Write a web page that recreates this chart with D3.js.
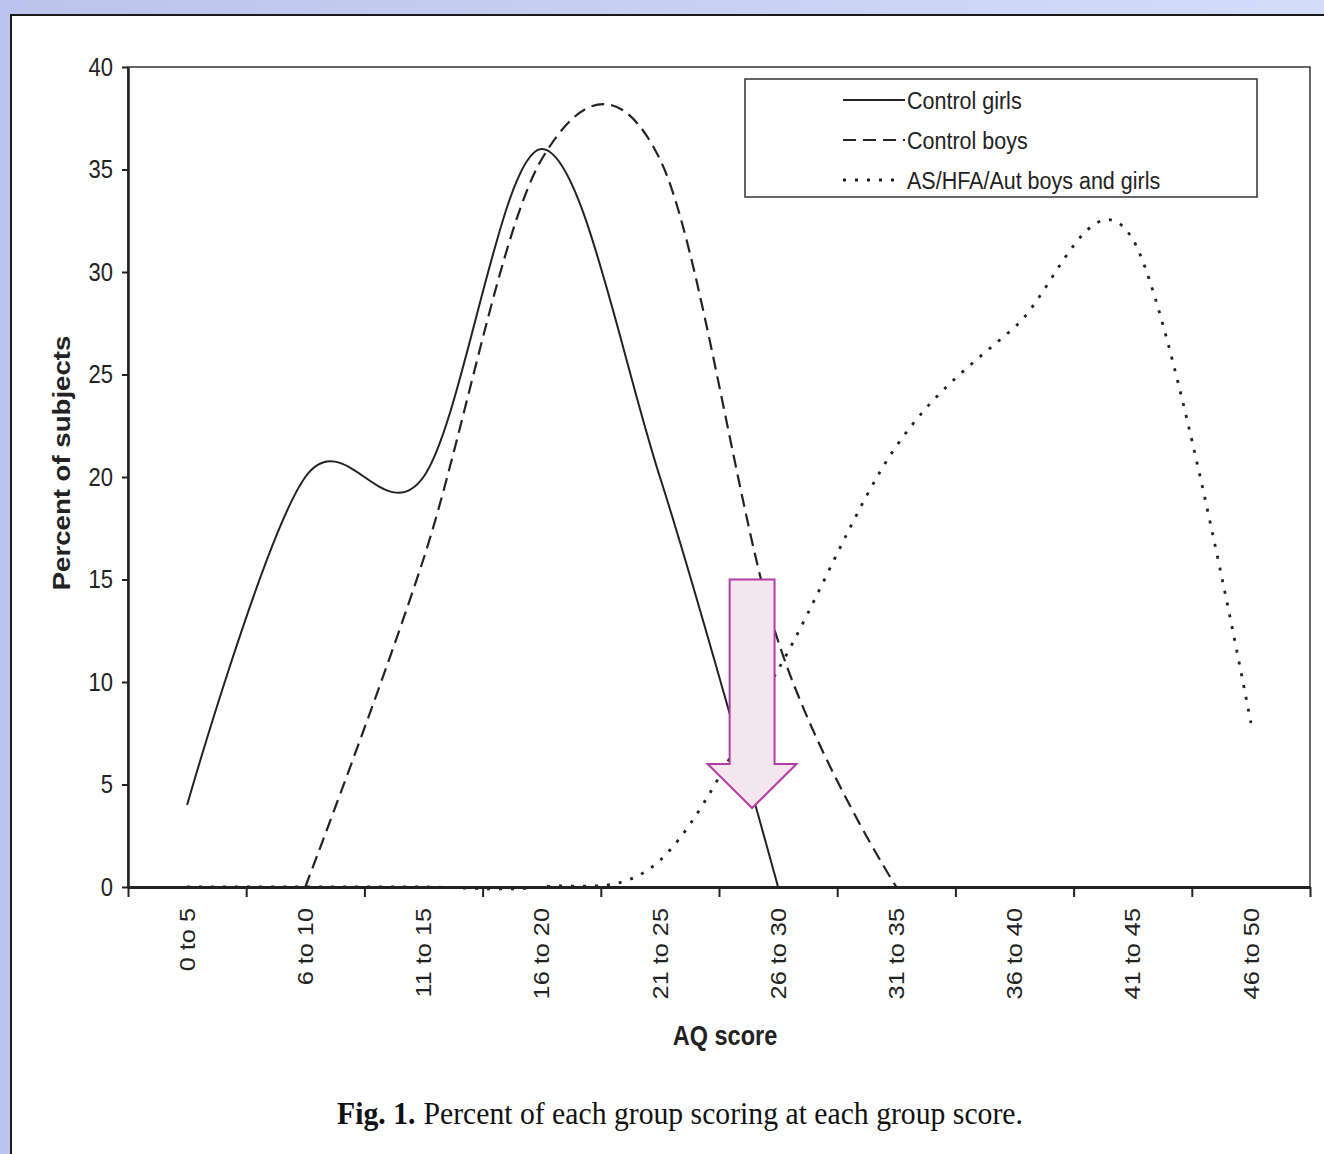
<!DOCTYPE html>
<html>
<head>
<meta charset="utf-8">
<script src="https://cdn.jsdelivr.net/npm/d3@7"></script>
<style>
  body { margin: 0; background: #fff; }
  svg { display: block; }
</style>
</head>
<body>
<svg id="chart" width="1324" height="1154"></svg>
<script>
// AQ score groups (x categories)
const categories = ["0 to 5", "6 to 10", "11 to 15", "16 to 20", "21 to 25",
                    "26 to 30", "31 to 35", "36 to 40", "41 to 45", "46 to 50"];
const yTicks = [0, 5, 10, 15, 20, 25, 30, 35, 40];

// percent of subjects, null = not plotted
const controlGirls = [4, 20, 20, 36, 20, 0, null, null, null, null];
const controlBoys = [null, 0, 16, 35.5, 35.5, 12, 0, null, null, null];
const asHfaAut = [0, 0, 0, 0, 1.3, 10.6, 21.5, 27.3, 31.6, 8];

const seriesNames = ["Control girls", "Control boys", "AS/HFA/Aut boys and girls"];

// the pink arrow, in data units (category index / percent)
const arrowAt = 4.78, arrowTop = 15, arrowHeadBase = 6, arrowTip = 3.85;

const STRETCH = 1.15; // the scanned figure is a bit taller than wide
const ink = "#222";

const svg = d3.select("#chart");

const margin = { left: 128, right: 1310, top: 67, bottom: 887 };

// page background + white panel
const defs = svg.append("defs");
const grad = defs.append("linearGradient").attr("id", "bg").attr("x1", 0).attr("x2", 1).attr("y1", 0).attr("y2", 0);
grad.append("stop").attr("offset", 0).attr("stop-color", "#bcc3ec");
grad.append("stop").attr("offset", 1).attr("stop-color", "#d3ddfa");
svg.append("rect").attr("width", 1324).attr("height", 1154).attr("fill", "url(#bg)");
svg.append("rect").attr("x", 11).attr("y", 15).attr("width", 1340).attr("height", 1160)
  .attr("fill", "#fff").attr("stroke", "#1a1a1a").attr("stroke-width", 2);

const x = d3.scaleLinear().domain([0, categories.length]).range([margin.left, margin.right]);
const y = d3.scaleLinear().domain([0, 40]).range([margin.bottom, margin.top]);

// plot frame
svg.append("rect")
  .attr("x", x(0)).attr("y", y(40))
  .attr("width", x(categories.length) - x(0)).attr("height", y(0) - y(40))
  .attr("fill", "none").attr("stroke", "#333").attr("stroke-width", 1.5);

// y axis
const yAxis = svg.append("g")
  .attr("transform", `translate(${margin.left},0)`)
  .call(d3.axisLeft(y).tickValues(yTicks).tickSize(6).tickPadding(9).tickSizeOuter(0));
yAxis.select(".domain").attr("stroke", ink).attr("stroke-width", 2.5);
yAxis.selectAll(".tick line").attr("stroke", ink).attr("stroke-width", 2);
yAxis.selectAll("text")
  .attr("font-family", "Liberation Sans, Arial, sans-serif")
  .attr("font-size", 22).attr("fill", ink)
  .attr("transform", `scale(1,${STRETCH})`);

// x axis: ticks at category boundaries
const xAxis = svg.append("g")
  .attr("transform", `translate(0,${margin.bottom})`)
  .call(d3.axisBottom(x).tickValues(d3.range(categories.length + 1)).tickSize(10)
    .tickSizeOuter(0).tickFormat(""));
xAxis.select(".domain").attr("stroke", ink).attr("stroke-width", 3);
xAxis.selectAll(".tick line").attr("stroke", ink).attr("stroke-width", 2);

svg.append("g").selectAll("text")
  .data(categories)
  .join("text")
  .attr("transform", (d, i) => `translate(${x(i + 0.5)},${margin.bottom + 21}) rotate(-90) scale(${STRETCH},1)`)
  .attr("text-anchor", "end")
  .attr("dy", "0.35em")
  .attr("font-family", "Liberation Sans, Arial, sans-serif")
  .attr("font-size", 22).attr("fill", ink)
  .text(d => d);

// axis titles
svg.append("text")
  .attr("transform", `translate(725,1045) scale(1,${STRETCH})`)
  .attr("text-anchor", "middle")
  .attr("font-family", "Liberation Sans, Arial, sans-serif")
  .attr("font-weight", "bold").attr("font-size", 23.5).attr("fill", ink)
  .text("AQ score");

svg.append("text")
  .attr("transform", `translate(70,463) rotate(-90) scale(${STRETCH},1)`)
  .attr("text-anchor", "middle")
  .attr("font-family", "Liberation Sans, Arial, sans-serif")
  .attr("font-weight", "bold").attr("font-size", 24).attr("fill", ink)
  .text("Percent of subjects");

// series
const styles = [
  { data: controlGirls, dash: null, width: 2 },
  { data: controlBoys, dash: "13,7", width: 2.2 },
  { data: asHfaAut, dash: "3,9", width: 2.8 }
];

const line = d3.line()
  .defined(d => d != null)
  .x((d, i) => x(i + 0.5))
  .y(d => y(d))
  .curve(d3.curveCardinal.tension(0));

svg.append("g").selectAll("path")
  .data(styles)
  .join("path")
  .attr("d", s => line(s.data))
  .attr("fill", "none")
  .attr("stroke", ink)
  .attr("stroke-width", s => s.width)
  .attr("stroke-dasharray", s => s.dash);

// legend
const legend = svg.append("g").attr("transform", "translate(745,79)");
legend.append("rect").attr("width", 512).attr("height", 118)
  .attr("fill", "#fff").attr("stroke", "#333").attr("stroke-width", 1.5);
const rows = legend.selectAll("g.row")
  .data(styles.map((s, i) => ({ ...s, name: seriesNames[i] })))
  .join("g").attr("class", "row")
  .attr("transform", (d, i) => `translate(0,${21 + i * 40})`);
rows.append("line")
  .attr("x1", 98).attr("x2", (d, i) => i === 2 ? 152 : 160)
  .attr("stroke", ink).attr("stroke-width", d => d.width)
  .attr("stroke-dasharray", d => d.dash);
rows.append("text")
  .attr("x", 162)
  .attr("transform", `scale(1,${STRETCH})`)
  .attr("dy", "0.35em")
  .attr("font-family", "Liberation Sans, Arial, sans-serif")
  .attr("font-size", 21.5).attr("fill", ink)
  .text(d => d.name);

// pink arrow pointing at the crossing
const half = 0.19, headHalf = 0.376;
const arrowPts = [
  [arrowAt - half, arrowTop], [arrowAt + half, arrowTop],
  [arrowAt + half, arrowHeadBase], [arrowAt + headHalf, arrowHeadBase],
  [arrowAt, arrowTip],
  [arrowAt - headHalf, arrowHeadBase], [arrowAt - half, arrowHeadBase]
];
svg.append("path")
  .attr("d", d3.line().x(p => x(p[0] + 0.5)).y(p => y(p[1]))(arrowPts) + "Z")
  .attr("fill", "#f4e6ef").attr("stroke", "#b43ba5").attr("stroke-width", 2);

// caption
const cap = svg.append("text")
  .attr("transform", "translate(680,1124) scale(1,1.08)")
  .attr("text-anchor", "middle")
  .attr("font-family", "Liberation Serif, Times New Roman, serif")
  .attr("font-size", 29.7).attr("fill", "#111");
cap.append("tspan").attr("font-weight", "bold").text("Fig. 1.");
cap.append("tspan").attr("dx", 8).text("Percent of each group scoring at each group score.");
</script>
</body>
</html>
